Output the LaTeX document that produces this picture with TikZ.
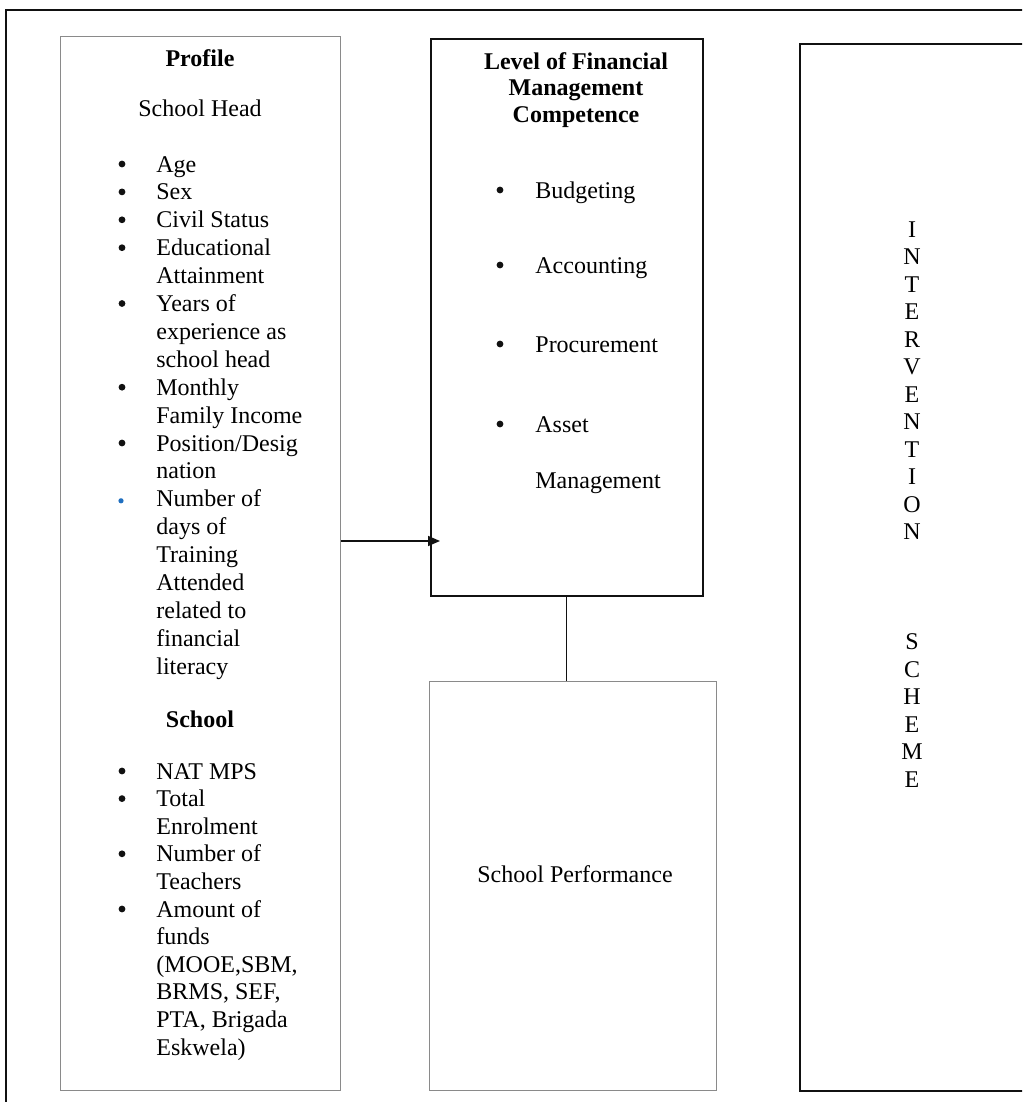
\documentclass[tikz,border=0pt]{standalone}
\usepackage{fontspec}
\setmainfont{Liberation Serif}
\usepackage{tikz}
\usetikzlibrary{arrows.meta,positioning,calc}
\definecolor{ink}{HTML}{111111}
\definecolor{frame}{HTML}{8A8A8A}
\definecolor{wordblue}{HTML}{1F6FC0}

\tikzset{
  txt/.style={inner sep=0pt,font=\fontsize{12}{14}\selectfont,anchor=base west},
  ctr/.style={inner sep=0pt,font=\fontsize{12}{14}\selectfont,anchor=base},
  ttl/.style={ctr,font=\fontsize{12}{14}\selectfont\bfseries},
  dot/.style={circle,fill=ink,inner sep=0pt,minimum size=3.4pt},
  graybox/.style={draw=frame,line width=0.6pt,anchor=north west,inner sep=0pt},
  blackbox/.style={draw=ink,line width=0.8pt,anchor=north west,inner sep=0pt},
}

\begin{document}
\begin{tikzpicture}[x=0.5pt,y=-0.5pt]
  \useasboundingbox (0,0) rectangle (1022,1102);
  \clip (0,0) rectangle (1022,1102);
  \fill[white] (0,0) rectangle (1022,1102);
  % page frame
  \draw[ink,line width=0.6pt] (6,1130) |- (1060,10);

  % boxes
  \node[graybox,minimum width=140pt,minimum height=527pt] (profile) at (60,36) {};
  \node[blackbox,minimum width=136pt,minimum height=278.5pt] (level) at (430,38) {};
  \node[graybox,minimum width=143.5pt,minimum height=204.5pt] (perf) at (429,681) {};
  \node[blackbox,line width=1pt,minimum width=140pt,minimum height=523.5pt] (scheme) at (799,43) {};

  % profile: school head
  \node[ttl] (prof-ttl) at (200,67) {Profile};
  \node[ctr] (head-ttl) at (200,117) {School Head};
  \foreach \t [count=\i from 0] in {Age,Sex,Civil Status,Educational,Attainment,
      Years of,experience as,school head,Monthly,Family Income,Position/Desig,
      nation,Number of,days of,Training,Attended,related to,financial,literacy}
    \node[txt] (hd-\i) at (156,{172+27.9*\i}) {\t};
  \foreach \i in {0,1,2,3,5,8,10}
    \node[dot] (hb-\i) at (122,{172+27.9*\i-8}) {};
  \node[dot,fill=wordblue,minimum size=2.6pt] (hb-12) at (121,{172+27.9*12-6}) {};

  % profile: school
  \node[ttl] (sch-ttl) at (200,727) {School};
  \foreach \t [count=\i from 0] in {NAT MPS,Total,Enrolment,Number of,Teachers,
      Amount of,funds,{(MOOE,SBM,},{BRMS, SEF,},{PTA, Brigada},Eskwela)}
    \node[txt] (sc-\i) at (156,{779+27.6*\i}) {\t};
  \foreach \i in {0,1,3,5}
    \node[dot] (sb-\i) at (122,{779+27.6*\i-8}) {};

  % competence
  \node[ttl] (lv-1) at (576,70) {Level of Financial};
  \node[ttl] (lv-2) at (576,96) {Management};
  \node[ttl] (lv-3) at (576,122) {Competence};
  \foreach \t/\y [count=\i] in {Budgeting/198,Accounting/273,Procurement/352,Asset/432}
  {
    \node[dot] (lb-\i) at (500,\y-8) {};
    \node[txt] (li-\i) at (535,\y) {\t};
  }
  \node[txt] (li-5) at (535,488) {Management};

  \node[ctr] (perf-lbl) at (575,882) {School Performance};

  % intervention scheme, one letter per line
  \foreach \c [count=\i from 0] in {I,N,T,E,R,V,E,N,T,I,O,N}
    \node[ctr] (iv-\i) at (912,{237+27.5*\i}) {\c};
  \foreach \c [count=\i from 0] in {S,C,H,E,M,E}
    \node[ctr] (sh-\i) at (912,{649.5+27.5*\i}) {\c};

  % connectors
  \coordinate (tip) at (440,541);
  \draw[ink,line width=0.8pt,-{Triangle[length=6pt,width=5pt]}] (profile.east |- tip) -- (tip);
  \draw[ink,line width=0.6pt] (level.south) -- (level.south |- perf.north);
\end{tikzpicture}
\end{document}
